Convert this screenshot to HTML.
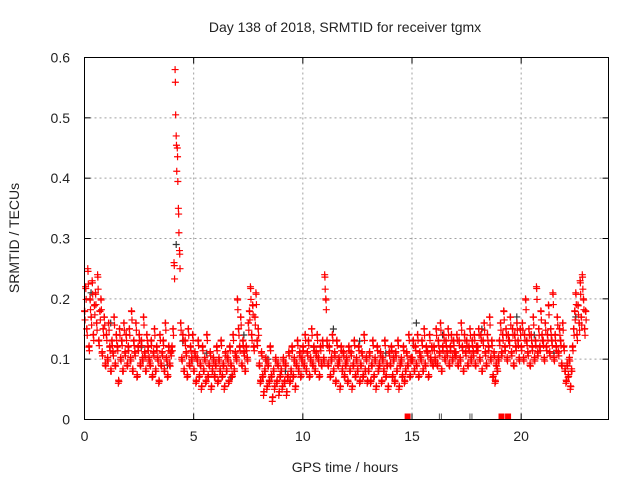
<!DOCTYPE html>
<html><head><meta charset="utf-8"><style>
body{margin:0;background:#fff;}
svg{display:block;font-family:"Liberation Sans",sans-serif;}
</style></head><body>
<svg id="chart" width="640" height="480" viewBox="0 0 640 480">
<rect x="0" y="0" width="640" height="480" fill="#fff"/>
<text x="345" y="32" font-size="14" text-anchor="middle" fill="#222">Day 138 of 2018, SRMTID for receiver tgmx</text>
<text x="345" y="472" font-size="14" text-anchor="middle" fill="#222">GPS time / hours</text>
<text transform="translate(19,238) rotate(-90)" font-size="14" text-anchor="middle" fill="#222">SRMTID / TECUs</text>
<g id="grid"></g>
<g id="ticks"></g>
<g id="marks"></g>
<rect x="84.5" y="57.5" width="524" height="362" fill="none" stroke="#000" stroke-width="1"/>
</svg>
<script>
const xTicks=[0,5,10,15,20];
const yTicks=[0,0.1,0.2,0.3,0.4,0.5,0.6];
const yTickLabels=["0","0.1","0.2","0.3","0.4","0.5","0.6"];
const sampleStartHour=0;
const sampleStepHours=0.05;
const redValues=[
0.18,0.22,0.15,0.25,0.12,0.20,0.17,0.23,0.14,0.19,0.21,0.16,0.24,0.13,0.18,0.20,0.11,0.15,0.17,0.09,
0.14,0.10,0.16,0.12,0.08,0.13,0.11,0.17,0.09,0.14,0.12,0.06,0.15,0.10,0.13,0.08,0.16,0.11,0.14,0.09,
0.12,0.15,0.10,0.18,0.08,0.13,0.11,0.16,0.07,0.12,0.14,0.09,0.13,0.10,0.17,0.11,0.08,0.14,0.12,0.10,
0.09,0.13,0.07,0.11,0.15,0.08,0.12,0.10,0.06,0.14,0.09,0.11,0.13,0.08,0.16,0.10,0.07,0.12,0.09,0.11,
0.12,0.15,0.26,0.58,0.47,0.45,0.35,0.28,0.16,0.10,0.14,0.08,0.13,0.11,0.07,0.15,0.09,0.12,0.10,0.14,
0.08,0.11,0.06,0.10,0.13,0.07,0.09,0.05,0.12,0.08,0.10,0.06,0.14,0.07,0.09,0.11,0.05,0.08,0.10,0.07,
0.09,0.12,0.06,0.10,0.08,0.13,0.07,0.09,0.05,0.11,0.08,0.10,0.06,0.12,0.09,0.07,0.14,0.08,0.11,0.10,
0.20,0.15,0.12,0.17,0.09,0.13,0.11,0.08,0.12,0.10,0.16,0.18,0.22,0.14,0.19,0.12,0.17,0.21,0.13,0.15,
0.09,0.06,0.11,0.07,0.04,0.08,0.10,0.05,0.09,0.06,0.12,0.07,0.03,0.08,0.05,0.10,0.06,0.09,0.04,0.07,
0.08,0.05,0.10,0.06,0.09,0.04,0.07,0.11,0.06,0.08,0.12,0.07,0.10,0.05,0.09,0.13,0.08,0.11,0.07,0.10,
0.12,0.09,0.14,0.08,0.11,0.13,0.07,0.10,0.15,0.09,0.12,0.08,0.11,0.14,0.10,0.07,0.12,0.09,0.13,0.10,
0.24,0.20,0.13,0.09,0.12,0.07,0.10,0.14,0.08,0.11,0.06,0.13,0.09,0.10,0.05,0.12,0.08,0.11,0.07,0.09,
0.10,0.06,0.12,0.08,0.11,0.05,0.09,0.13,0.07,0.10,0.08,0.12,0.06,0.09,0.11,0.07,0.14,0.08,0.10,0.06,
0.08,0.11,0.06,0.09,0.13,0.07,0.10,0.05,0.12,0.08,0.09,0.11,0.06,0.10,0.08,0.13,0.07,0.09,0.05,0.11,
0.09,0.12,0.07,0.10,0.06,0.11,0.08,0.13,0.05,0.09,0.10,0.07,0.12,0.06,0.08,0.11,0.09,0.14,0.07,0.10,
0.10,0.13,0.08,0.12,0.09,0.14,0.07,0.11,0.10,0.13,0.08,0.15,0.09,0.12,0.11,0.07,0.14,0.10,0.12,0.09,
0.12,0.10,0.15,0.09,0.13,0.11,0.16,0.08,0.12,0.14,0.10,0.13,0.11,0.15,0.09,0.12,0.14,0.10,0.13,0.11,
0.11,0.14,0.09,0.13,0.10,0.16,0.12,0.08,0.14,0.11,0.13,0.09,0.12,0.15,0.10,0.13,0.11,0.14,0.09,0.12,
0.12,0.15,0.10,0.14,0.08,0.13,0.16,0.11,0.09,0.14,0.12,0.17,0.10,0.13,0.07,0.11,0.06,0.09,0.08,0.10,
0.13,0.16,0.11,0.14,0.18,0.12,0.15,0.10,0.14,0.13,0.17,0.11,0.15,0.09,0.14,0.12,0.16,0.13,0.10,0.15,
0.12,0.16,0.10,0.14,0.20,0.13,0.11,0.15,0.09,0.14,0.12,0.17,0.10,0.13,0.22,0.11,0.15,0.12,0.18,0.14,
0.13,0.10,0.16,0.12,0.14,0.19,0.11,0.15,0.13,0.21,0.10,0.14,0.12,0.17,0.11,0.15,0.13,0.09,0.16,0.12,
0.08,0.06,0.09,0.07,0.10,0.05,0.08,0.12,0.15,0.18,0.21,0.14,0.19,0.16,0.23,0.17,0.24,0.20,0.15,0.18
];
const grayValues=[0.21,0.16,0.12,0.09,0.13,0.29,0.11,0.07,0.14,0.10,0.08,0.12,0.15,0.13,0.11,0.16,0.14,0.12,0.15,0.17,0.14,0.11,0.17];
const grayHours=[0.3,1.2,2.6,3.8,4.5,4.2,5.6,6.7,7.3,8.4,9.2,10.5,11.4,12.6,13.8,15.2,16.4,17.3,18.2,19.8,20.6,21.5,22.5];
const baseRedHours=[14.8,19.1,19.4];
const baseGrayHours=[16.3,17.7];

const x0=84.5,x1=608.5,y0=419.5,y1=57.5,xMax=24,yMax=0.6;
const sx=h=>x0+(h/xMax)*(x1-x0);
const sy=v=>y0-(v/yMax)*(y0-y1);
const NS="http://www.w3.org/2000/svg";
const grid=document.getElementById('grid'),ticks=document.getElementById('ticks'),marks=document.getElementById('marks');
function mk(tag,attrs,parent){const e=document.createElementNS(NS,tag);for(const k in attrs)e.setAttribute(k,attrs[k]);parent.appendChild(e);return e;}
xTicks.forEach(t=>{
  const x=sx(t);
  if(t>0){const g=mk('line',{x1:x,x2:x,y1:y0,y2:y1,stroke:'#a0a0a0','stroke-dasharray':'2,3'},grid);
  
  }
  mk('line',{x1:x,x2:x,y1:y0,y2:y0-6,stroke:'#000'},ticks);
  mk('line',{x1:x,x2:x,y1:y1,y2:y1+6,stroke:'#000'},ticks);
  const l=mk('text',{x:x,y:441,'font-size':14,'text-anchor':'middle',fill:'#222'},ticks);
  l.textContent=t;
  
  
});
yTicks.forEach((t,i)=>{
  const y=sy(t);
  if(t>0&&t<0.6){const g=mk('line',{x1:x0,x2:x1,y1:y,y2:y,stroke:'#a0a0a0','stroke-dasharray':'2,3'},grid);
  
  }
  mk('line',{x1:x0,x2:x0+6,y1:y,y2:y,stroke:'#000'},ticks);
  mk('line',{x1:x1,x2:x1-6,y1:y,y2:y,stroke:'#000'},ticks);
  const l=mk('text',{x:70,y:y+5,'font-size':14,'text-anchor':'end',fill:'#222'},ticks);
  l.textContent=yTickLabels[i];
  
  
});
function plus(h,v,color,name){
  const x=sx(h),y=sy(v);
  const p=mk('path',{d:`M${x-3.5},${y}H${x+3.5}M${x},${y-3.5}V${y+3.5}`,stroke:color,'stroke-width':1.2,fill:'none'},marks);
  
  
}
grayValues.forEach((v,i)=>plus(grayHours[i],v,'#333','gray-point'));
redValues.forEach((v,i)=>{
  const h=sampleStartHour+i*sampleStepHours;
  plus(h,v,'#ff0000','red-point');
  plus(h+0.025,v*0.85+0.012,'#ff0000','red-point');
  plus(h+0.012,v*0.95+0.008,'#ff0000','red-point');
});
baseRedHours.forEach(h=>{
  const r=mk('rect',{x:sx(h)-3,y:y0-6,width:6,height:6,fill:'#ff0000'},marks);
  
  
});
baseGrayHours.forEach(h=>{
  const r=mk('path',{d:`M${sx(h)-1},${y0}v-6M${sx(h)+1},${y0}v-6`,stroke:'#555'},marks);
  
  
});
</script>
</body></html>
